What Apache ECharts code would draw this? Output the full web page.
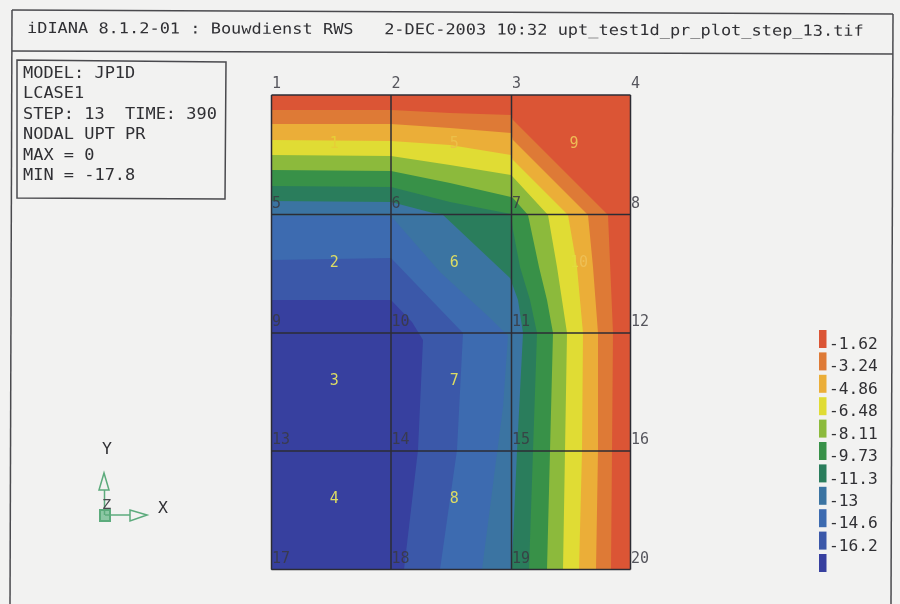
<!DOCTYPE html>
<html><head><meta charset="utf-8">
<style>html,body{margin:0;padding:0;background:#f2f2f1}#c{width:900px;height:604px}</style>
<script src="https://cdn.jsdelivr.net/npm/echarts@6/dist/echarts.min.js"></script>
</head><body><div id="c"></div>
<script>
// Mesh node lines, in model units
const meshX = [0, 119.5, 240, 359];
const meshY = [0, 119.5, 238, 356, 474.5];
// Legend
const legendLabels = ['-1.62','-3.24','-4.86','-6.48','-8.11','-9.73','-11.3','-13','-14.6','-16.2'];
const bandColors = ['#db5535','#de7a36','#ebae38','#e0dc34','#8cba3c','#389148','#2a7d5c','#3b74a2','#3d6bb0','#3b58a9','#37409f'];
// Contour lines: below each level, from the left edge to the bottom edge
const level162 = [[0,15],[120,15],[178.5,18],[239.5,20],[241.5,25],[336.5,120],[341.5,238],[340.5,356],[339.5,474.5]];
const level324 = [[0,29],[119.5,29],[178.5,33],[239.5,38],[241.5,45],[316.5,120],[321.5,172],[326.5,238],[326.5,356],[324.5,474.5]];
const level486 = [[0,45],[119.5,46],[178.5,50],[239.5,60],[241.5,65],[296.5,120],[305.5,172],[311.5,238],[310.5,356],[307.5,474.5]];
const level648 = [[0,60],[119.5,61],[178.5,70],[239.5,80],[241.5,82],[276.5,120],[285.5,172],[295.5,238],[293.5,356],[291.5,474.5]];
const level811 = [[0,75],[119.5,76],[178.5,88],[239.5,102],[241.5,103],[256.5,120],[267.5,172],[275.5,205],[281.5,238],[278.5,356],[275.5,474.5]];
const level973 = [[0,91],[119.5,92],[178.5,107],[239.5,119],[241.5,135],[248.5,172],[258.5,205],[265.5,238],[261.5,356],[257.5,474.5]];
const level113 = [[0,106],[119.5,107],[161.5,118],[170.5,119],[238.5,183],[246.5,205],[251.5,238],[245.5,356],[241.5,445],[240,474.5]];
const level130 = [[0,121],[119.5,121],[168.5,177],[218.5,223],[236.5,241],[231.5,312],[225.5,358],[210.5,474.5]];
const level146 = [[0,165],[119.5,163],[191.5,238],[185.5,355],[168.5,474.5]];
const level162b = [[0,205],[119.5,205],[140.5,227],[151.5,245],[146.5,355],[132.5,474.5]];
const contours = [level162,level324,level486,level648,level811,level973,level113,level130,level146,level162b];
// Element labels, by column and row index of the element, with the tint they show on the bands
const elementNames = ['1','2','3','4','5','6','7','8','9','10'];
const elementCols = [0,0,0,0,1,1,1,1,2,2];
const elementRows = [0,1,2,3,0,1,2,3,0,1];
const elementTints = ['#e6cf36','#dcdc64','#dcdc64','#dcdc64','#ecc048','#dcdc64','#dcdc64','#dcdc64','#eebb55','#eebf55'];
const infoLines = ['MODEL: JP1D','LCASE1','STEP: 13  TIME: 390','NODAL UPT PR','MAX = 0','MIN = -17.8'];
const titleText = 'iDIANA 8.1.2-01 : Bouwdienst RWS   2-DEC-2003 10:32 upt_test1d_pr_plot_step_13.tif';

const W = meshX[3], H = meshY[4];
const bands = bandColors.map((c,i)=>{
  const poly = i===0 ? [[0,0],[W,0],[W,H],[0,H]] : contours[i-1].concat([[0,H]]);
  return {poly, color:c};
});
const nodes = [];
let n=1;
meshY.forEach(y=>meshX.forEach(x=>nodes.push({value:[x,y],name:String(n++)})));

const mono = '"DejaVu Sans Mono", monospace';
const ink = '#303034';
const g = [];
const line=(x1,y1,x2,y2,w,col)=>g.push({type:'line',silent:true,shape:{x1,y1,x2,y2},style:{stroke:col||'#4a4a4e',lineWidth:w||1.5}});
const text=(t,x,y,size,sx,col,rot)=>g.push({type:'text',silent:true,x,y,scaleX:sx||1,rotation:rot||0,style:{text:t,font:size+'px '+mono,fill:col||ink,verticalAlign:'middle'}});
// Frame
line(12,10,893,14); line(12,51,893,54); line(12,10,10,604); line(893,14,891,604);
g.push({type:'polygon',silent:true,shape:{points:[[17,60],[226,62],[225,199],[17,198]]},style:{fill:'none',stroke:'#4a4a4e',lineWidth:1.5}});
text(titleText,27,29,15,1.13,ink,-0.0035);
infoLines.forEach((t,i)=>text(t,23,74+i*20.5,15,1.13));
// Legend
bandColors.forEach((c,i)=>g.push({type:'rect',silent:true,shape:{x:819,y:330+i*22.4,width:7.5,height:18},style:{fill:c}}));
legendLabels.forEach((t,i)=>text(t,829,345+i*22.45,15,1.08));
// Axis triad
const tg='#5cab7c';
g.push({type:'rect',silent:true,shape:{x:100,y:510,width:10,height:11},style:{fill:'#8cc7a4',stroke:tg,lineWidth:2}});
line(104.5,515,104.5,490,1.5,tg); line(105,515,130,515,1.5,tg);
g.push({type:'polygon',silent:true,shape:{points:[[104,473],[99,490],[109,490]]},style:{fill:'#f2f2f1',stroke:tg,lineWidth:1.5}});
g.push({type:'polygon',silent:true,shape:{points:[[147,515],[130,510],[130,521]]},style:{fill:'#f2f2f1',stroke:tg,lineWidth:1.5}});
text('Y',102,450,15,1.1); text('Z',102,505,14,1.1,'#4a4a4e'); text('X',158,509,15,1.1);

const chart = echarts.init(document.getElementById('c'),null,{renderer:'canvas'});
chart.setOption({
  animation:false, backgroundColor:'#f2f2f1',
  grid:{left:271.5,top:95,width:W,height:H},
  xAxis:{type:'value',min:0,max:W,show:false},
  yAxis:{type:'value',min:0,max:H,inverse:true,show:false},
  graphic:{elements:g},
  series:[
    {type:'custom',silent:true,coordinateSystem:'cartesian2d',data:bands.map((b,i)=>[i]),clip:false,encode:{x:0},
     renderItem:(p,api)=>{const b=bands[p.dataIndex];return{type:'polygon',shape:{points:b.poly.map(q=>api.coord(q))},style:{fill:b.color}};}},
    {type:'custom',silent:true,coordinateSystem:'cartesian2d',data:[[0]],clip:false,encode:{x:0},
     renderItem:(p,api)=>{
       const kids=[];
       meshX.forEach(x=>{const a=api.coord([x,0]),b=api.coord([x,H]);kids.push({type:'line',shape:{x1:a[0],y1:a[1],x2:b[0],y2:b[1]},style:{stroke:'#2c2c34',lineWidth:1.5}});});
       meshY.forEach(y=>{const a=api.coord([0,y]),b=api.coord([W,y]);kids.push({type:'line',shape:{x1:a[0],y1:a[1],x2:b[0],y2:b[1]},style:{stroke:'#2c2c34',lineWidth:1.5}});});
       return {type:'group',children:kids};
     }},
    {type:'scatter',silent:true,symbolSize:1,itemStyle:{opacity:0},data:nodes,z:5,
     label:{show:true,formatter:p=>p.name,position:[1,-10],align:'left',verticalAlign:'middle',fontFamily:mono,fontSize:15,color:'#3a3a42',opacity:.85}},
    {type:'scatter',silent:true,symbolSize:1,itemStyle:{opacity:0},z:5,
     data:elementNames.map((e,i)=>({
       value:[(meshX[elementCols[i]]+meshX[elementCols[i]+1])/2,(meshY[elementRows[i]]+meshY[elementRows[i]+1])/2],name:e,
       label:e==='10'
         ? {offset:[8,-11],formatter:'{a|1}{b|0}',rich:{a:{color:'#e2dc3e',fontFamily:mono,fontSize:15},b:{color:elementTints[i],fontFamily:mono,fontSize:15}}}
         : {color:elementTints[i]}})),
     label:{show:true,formatter:p=>p.name,position:'inside',offset:[3,-11],align:'center',verticalAlign:'middle',fontFamily:mono,fontSize:15,opacity:1}}
  ]
});
</script></body></html>
